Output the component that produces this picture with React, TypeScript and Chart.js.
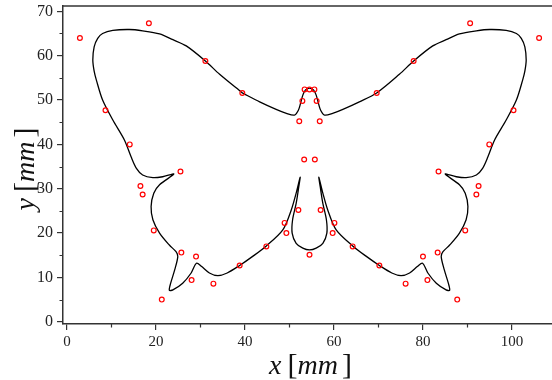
import React, { useEffect, useRef } from "react";
import { Chart, registerables } from "chart.js";
Chart.register(...registerables);

// Butterfly outline (closed curve)
const curveX = [39.4, 34.3, 31.1, 26.8, 23.8, 20.8, 17.0, 14.0, 10.3, 8.0, 6.9, 6.1, 5.8, 6.1, 6.6, 8.0, 10.3, 12.9, 14.4, 15.6, 17.0, 19.3, 21.5, 24.0, 20.8, 19.5, 18.9, 19.3, 20.8, 23.0, 24.5, 24.9, 24.2, 23.3, 23.0, 23.8, 26.0, 27.9, 29.1, 30.2, 32.0, 33.9, 36.0, 38.8, 41.8, 44.8, 48.5, 50.4, 51.5, 52.4, 52.1, 51.5, 50.7, 50.6, 51.5, 53.0, 54.5,
  56.0, 57.5, 58.4, 58.3, 57.5, 56.9, 56.6, 57.5, 58.6, 60.5, 64.2, 67.2, 70.2, 73.0, 75.1, 77.0, 78.8, 79.9, 81.1, 83.0, 85.2, 86.0, 85.7, 84.8, 84.1, 84.5, 86.0, 88.2, 89.7, 90.1, 89.5, 88.2, 85.0, 87.5, 89.7, 92.0, 93.4, 94.6, 96.1, 98.7, 101.0, 102.4, 102.9, 103.2, 102.9, 102.1, 101.0, 98.7, 95.0, 92.0, 88.2, 85.2, 82.2, 77.9, 74.7, 69.6, 65.7, 62.0, 59.7, 57.9, 57.0, 56.5, 56.0, 55.4, 54.5, 53.6, 53.0, 52.5, 52.0, 51.1, 49.3, 47.0, 43.3, 39.4];
const curveY = [51.6, 55.8, 58.8, 62.2, 63.6, 64.9, 65.6, 65.9, 65.7, 65.0, 63.9, 62.0, 59.0, 56.5, 54.5, 50.0, 45.5, 41.0, 37.2, 34.6, 33.1, 32.5, 32.7, 33.3, 30.9, 29.0, 26.0, 23.0, 20.0, 17.3, 15.8, 14.7, 11.7, 8.7, 7.1, 7.2, 8.7, 11.0, 13.2, 12.5, 11.0, 10.4, 11.0, 12.7, 14.8, 17.1, 20.7, 25.2, 29.0, 32.6, 30.5, 26.7, 23.0, 20.0, 17.7, 16.6, 16.2,
  16.6, 17.7, 20.0, 23.0, 26.7, 30.5, 32.6, 29.0, 25.2, 20.7, 17.1, 14.8, 12.7, 11.0, 10.4, 11.0, 12.5, 13.2, 11.0, 8.7, 7.2, 7.1, 8.7, 11.7, 14.7, 15.8, 17.3, 20.0, 23.0, 26.0, 29.0, 30.9, 33.3, 32.7, 32.5, 33.1, 34.6, 37.2, 41.0, 45.5, 50.0, 54.5, 56.5, 59.0, 62.0, 63.9, 65.0, 65.7, 65.9, 65.6, 64.9, 63.6, 62.2, 58.8, 55.8, 51.6, 49.6, 47.9, 47.0, 46.6, 47.7, 49.3, 51.1, 52.3, 52.7, 52.3, 51.1, 49.3, 47.7, 46.6, 47.0, 47.9, 49.6, 51.6];

// Control points (red circles)
const markerX = [2.9, 18.4, 31.1, 39.4, 8.65, 14.1, 25.5, 16.5, 17.0, 19.5, 25.7, 29.0, 28.0, 32.9, 21.3, 38.8, 44.8, 48.9, 49.3, 52.0, 53.3, 52.2, 52.9, 53.4,
  54.5, 54.5,
  106.1, 90.6, 77.9, 69.6, 100.35, 94.9, 83.5, 92.5, 92.0, 89.5, 83.3, 80.0, 81.0, 76.1, 87.7, 70.2, 64.2, 60.1, 59.7, 57.0, 55.7, 56.8, 56.1, 55.6];
const markerY = [64.0, 67.3, 58.8, 51.6, 47.7, 40.0, 33.9, 30.6, 28.7, 20.6, 15.6, 14.7, 9.4, 8.6, 5.0, 12.7, 17.0, 22.3, 20.0, 25.2, 36.6, 45.2, 49.8, 52.4,
  52.4, 15.1,
  64.0, 67.3, 58.8, 51.6, 47.7, 40.0, 33.9, 30.6, 28.7, 20.6, 15.6, 14.7, 9.4, 8.6, 5.0, 12.7, 17.0, 22.3, 20.0, 25.2, 36.6, 45.2, 49.8, 52.4];

const xTicks = [0, 20, 40, 60, 80, 100];
const yTicks = [0, 10, 20, 30, 40, 50, 60, 70];
const xMinorTicks = [10, 30, 50, 70, 90];
const yMinorTicks = [5, 15, 25, 35, 45, 55, 65];

const SERIF = "'Liberation Serif', 'Times New Roman', serif";
const AXIS = "#333333";

type Seg = { t: string; font: string; gap: number };

function drawRich(ctx: CanvasRenderingContext2D, segs: Seg[], cx: number, baseline: number) {
  let total = 0;
  const widths = segs.map((s) => {
    ctx.font = s.font;
    const w = ctx.measureText(s.t).width;
    total += w + s.gap;
    return w;
  });
  let x = cx - total / 2;
  ctx.textBaseline = "alphabetic";
  ctx.textAlign = "left";
  segs.forEach((s, i) => {
    x += s.gap;
    ctx.font = s.font;
    ctx.fillText(s.t, x, baseline);
    x += widths[i];
  });
}

const titleSegs = (v: string): Seg[] => [
  { t: v, font: `italic 28px ${SERIF}`, gap: 0 },
  { t: "[", font: `30px ${SERIF}`, gap: 6 },
  { t: "mm", font: `italic 28px ${SERIF}`, gap: 0 },
  { t: "]", font: `30px ${SERIF}`, gap: 4 },
];

const decor = {
  id: "decor",
  afterDraw(chart: any) {
    const { ctx, chartArea: a, scales } = chart;
    ctx.save();
    ctx.strokeStyle = AXIS;
    ctx.lineWidth = 1.5;
    ctx.beginPath();
    ctx.moveTo(a.left - 0.75, a.top);
    ctx.lineTo(a.right, a.top);
    ctx.stroke();
    ctx.lineWidth = 1.2;
    ctx.beginPath();
    yMinorTicks.forEach((v) => {
      const p = Math.round(scales.y.getPixelForValue(v)) + 0.5;
      ctx.moveTo(a.left - 3.5, p);
      ctx.lineTo(a.left, p);
    });
    xMinorTicks.forEach((v) => {
      const p = Math.round(scales.x.getPixelForValue(v)) + 0.5;
      ctx.moveTo(p, a.bottom);
      ctx.lineTo(p, a.bottom + 3.5);
    });
    ctx.stroke();
    ctx.fillStyle = "#111";
    drawRich(ctx, titleSegs("x"), (a.left + a.right) / 2 + 3, 374);
    ctx.save();
    ctx.translate(33.5, (a.top + a.bottom) / 2 + 4);
    ctx.rotate(-Math.PI / 2);
    drawRich(ctx, titleSegs("y"), 0, 0);
    ctx.restore();
    ctx.restore();
  },
};

const zeroPad = (s: any) => {
  s.paddingTop = 0;
  s.paddingBottom = 0;
  s.paddingLeft = 0;
  s.paddingRight = 0;
};

export default function App() {
  const ref = useRef<HTMLCanvasElement | null>(null);
  useEffect(() => {
    document.body.style.margin = "0";
    const canvas = ref.current!;
    const chart = new Chart(canvas, {
      type: "scatter",
      data: {
        datasets: [
          {
            data: markerX.map((x, i) => ({ x, y: markerY[i] })),
            showLine: false,
            pointStyle: "circle",
            pointRadius: 2.4,
            pointBorderWidth: 1.2,
            pointBorderColor: "#ff0000",
            pointBackgroundColor: "rgba(255,255,255,0)",
            order: 0,
          },
          {
            data: curveX.map((x, i) => ({ x, y: curveY[i] })),
            showLine: true,
            pointRadius: 0,
            borderColor: "#000000",
            borderWidth: 1.3,
            tension: 0.3,
            fill: false,
            order: 1,
          },
        ],
      },
      options: {
        responsive: false,
        animation: false,
        devicePixelRatio: 1,
        layout: { autoPadding: false, padding: { top: 6, right: 0, left: 0, bottom: 0 } },
        plugins: { legend: { display: false }, tooltip: { enabled: false } },
        scales: {
          x: {
            type: "linear",
            min: -0.9,
            max: 109,
            afterBuildTicks: (s: any) => {
              s.ticks = xTicks.map((value) => ({ value }));
            },
            afterFit: (s: any) => {
              s.height = 56;
              zeroPad(s);
            },
            border: { display: true, color: AXIS, width: 1.5 },
            grid: { display: true, drawOnChartArea: false, drawTicks: true, tickLength: 6, color: AXIS, lineWidth: 1.2 },
            ticks: { font: { family: SERIF, size: 15 }, color: "#222", padding: 3, maxRotation: 0 },
          },
          y: {
            type: "linear",
            min: -0.5,
            max: 71.2,
            afterBuildTicks: (s: any) => {
              s.ticks = yTicks.map((value) => ({ value }));
            },
            afterFit: (s: any) => {
              s.width = 63;
              zeroPad(s);
            },
            border: { display: true, color: AXIS, width: 1.5 },
            grid: { display: true, drawOnChartArea: false, drawTicks: true, tickLength: 6, color: AXIS, lineWidth: 1.2 },
            ticks: { font: { family: SERIF, size: 16 }, color: "#222", padding: 4 },
          },
        },
      },
      plugins: [decor],
    });
    return () => chart.destroy();
  }, []);
  return (
    <div style={{ position: "fixed", left: 0, top: 0, width: 552, height: 380, background: "#fff" }}>
      <canvas ref={ref} width={552} height={380} style={{ width: 552, height: 380, display: "block" }} />
    </div>
  );
}
